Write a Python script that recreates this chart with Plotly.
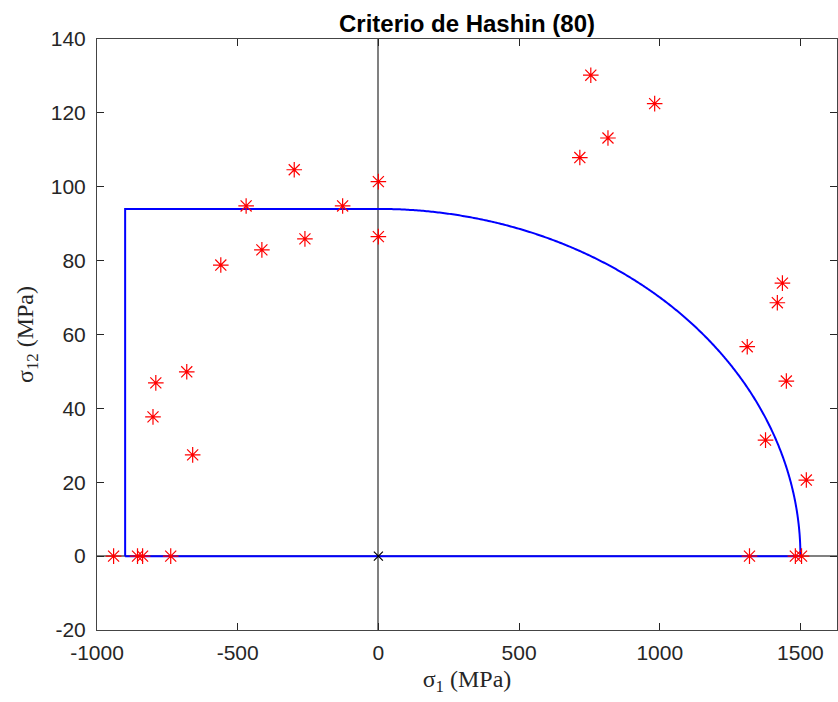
import numpy as np
import plotly.graph_objects as go

# Strength parameters (MPa)
Xt = 1500.0
Xc = 900.0
S = 94.0

# Experimental points
sigma1 = [-941, -856, -838, -738, -801, -791, -681, -660, -560, -470, -414, -299,
          -261, -127, 0, 0, 716, 755, 816, 982, 1311, 1319, 1418, 1436, 1376,
          1450, 1482, 1504, 1521]
sigma12 = [0, 0, 0, 0, 37.7, 46.9, 49.9, 27.4, 78.8, 94.8, 82.9, 104.6,
           85.9, 94.8, 101.4, 86.5, 107.9, 130.2, 113.2, 122.5, 56.7, 0, 68.6, 73.9, 31.4,
           47.4, 0, 0, 20.6]

xticks = [-1000, -500, 0, 500, 1000, 1500]
yticks = [-20, 0, 20, 40, 60, 80, 100, 120, 140]

# Hashin envelope: compression rectangle + tension quarter ellipse
t = np.linspace(0, 1, 400)
ex = list(Xt * np.sin(t * np.pi / 2))
ey = list(S * np.cos(t * np.pi / 2))
env_x = [-Xc, -Xc, 0] + ex + [Xt, -Xc]
env_y = [0, S, S] + ey + [0, 0]

fig = go.Figure()
fig.add_trace(go.Scatter(x=env_x, y=env_y, mode="lines",
                         line=dict(color="#0000ff", width=2, simplify=False), hoverinfo="skip"))
fig.add_trace(go.Scatter(x=sigma1, y=sigma12, mode="markers",
                         marker=dict(symbol="asterisk-open", size=13,
                                     line=dict(color="#ff0000", width=1.2),
                                     color="#ff0000")))
fig.add_trace(go.Scatter(x=[0], y=[0], mode="markers",
                         marker=dict(symbol="x-thin-open", size=9, color="#000000",
                                     line=dict(color="#000000", width=1.2))))

tickfont = dict(family="Liberation Sans, Arial, sans-serif", size=21, color="#262626")
axis_common = dict(
    showline=True, linecolor="#444444", linewidth=1, mirror="ticks",
    ticks="inside", ticklen=7, tickcolor="#262626", tickwidth=1,
    showgrid=False, zeroline=True, zerolinecolor="#808080", zerolinewidth=1.5,
    tickfont=tickfont,
)

fig.update_layout(
    width=838, height=702,
    margin=dict(l=97, r=1, t=39, b=72),
    paper_bgcolor="white", plot_bgcolor="white",
    showlegend=False,
    title=dict(text="<b>Criterio de Hashin (80)</b>", x=0.5, xref="paper",
               xanchor="center", y=1, yref="paper", yanchor="bottom", pad=dict(b=7),
               font=dict(family="Liberation Sans, Arial, sans-serif", size=24, color="#000000")),
    xaxis=dict(range=[-1000, 1630], tickvals=xticks,
               ticktext=[str(v) for v in xticks], ticklabelstandoff=4,
               title=dict(text="σ<sub>1</sub> (MPa)", standoff=6,
                          font=dict(family="Liberation Serif, DejaVu Serif, serif", size=24, color="#262626")),
               **axis_common),
    yaxis=dict(range=[-20, 140], tickvals=yticks,
               ticktext=[str(v) for v in yticks], ticklabelstandoff=6,
               title=dict(text="σ<sub>12</sub> (MPa)", standoff=10,
                          font=dict(family="Liberation Serif, DejaVu Serif, serif", size=24, color="#262626")),
               **axis_common),
)

fig.write_html("out.html")
